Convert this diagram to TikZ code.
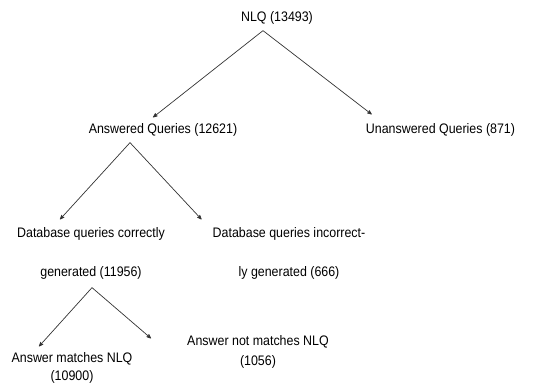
\documentclass[tikz,border=0pt]{standalone}
\usepackage{fontspec}
\setmainfont[FakeStretch=0.9]{Liberation Sans}
\usepackage{tikz}
\usetikzlibrary{arrows}

\begin{document}
\begin{tikzpicture}[x=1pt, y=-1pt,
  lab/.style={inner xsep=0pt, inner ysep=6pt, align=center, font=\fontsize{13.8}{15}\selectfont},
  arr/.style={-stealth', line width=0.7pt, black!80}]
\useasboundingbox (0,0) rectangle (554,386);

\node[lab] (nlq) at (277,18) {NLQ (13493)};
\node[lab] (ans) at (163,130) {Answered Queries (12621)};
\node[lab] (unans) at (440.5,130) {Unanswered Queries (871)};
\node[lab, font=\fontsize{13.8}{39}\selectfont] (corr) at (91,253.5) {Database queries correctly\\generated (11956)};
\node[lab, font=\fontsize{13.8}{39}\selectfont] (incorr) at (289,253.5) {Database queries incorrect-\\ly generated (666)};
\node[lab, font=\fontsize{13.8}{18}\selectfont] (match) at (72,368) {Answer matches NLQ\\(10900)};
\node[lab, font=\fontsize{13.8}{20}\selectfont] (notmatch) at (258,352) {Answer not matches NLQ\\(1056)};

\draw[arr] ([xshift=-14pt]nlq.south) -- ([xshift=-10pt]ans.north);
\draw[arr] ([xshift=-14pt]nlq.south) -- ([xshift=6pt,yshift=3pt]unans.north west);
\draw[arr] ([xshift=-33pt]ans.south) -- ([xshift=-31pt,yshift=2pt]corr.north);
\draw[arr] ([xshift=-33pt]ans.south) -- ([xshift=-11pt,yshift=2pt]incorr.north west);
\draw[arr] ([xshift=1pt,yshift=-2pt]corr.south) -- ([xshift=-33pt]match.north);
\draw[arr] ([xshift=1pt,yshift=-2pt]corr.south) -- ([xshift=-36pt,yshift=-9pt]notmatch.north west);
\end{tikzpicture}
\end{document}
